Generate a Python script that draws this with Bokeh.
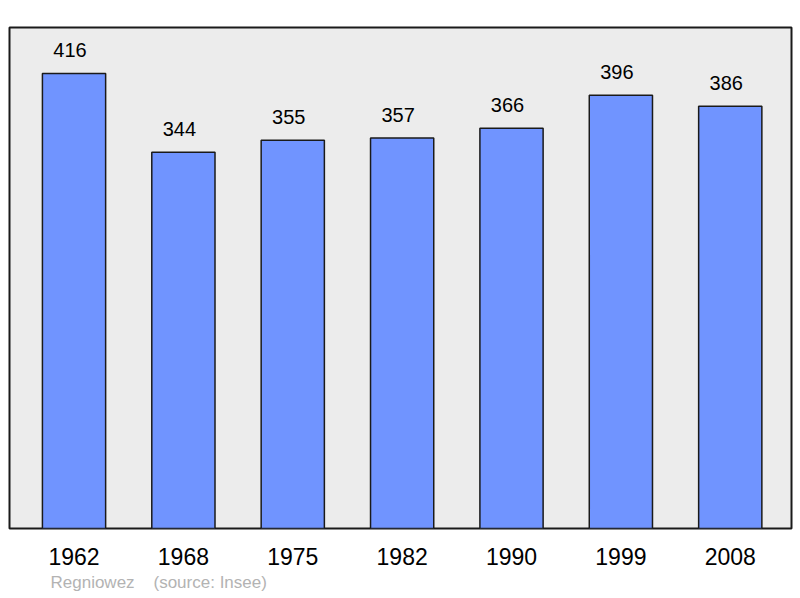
from bokeh.plotting import figure
from bokeh.models import Range1d, FixedTicker, Title
from bokeh.core.properties import value
from bokeh.embed import file_html
from bokeh.resources import INLINE

years = ["1962", "1968", "1975", "1982", "1990", "1999", "2008"]
population = [416, 344, 355, 357, 366, 396, 386]
author = "Regniowez"
source = "(source: Insee)"

xs = list(range(len(years)))
FONT = "Liberation Sans"

p = figure(width=800, height=598, output_backend="svg", toolbar_location=None,
           x_range=Range1d(-0.59, 6.56), y_range=Range1d(0, 458),
           min_border_left=9, min_border_right=9, min_border_top=27, min_border_bottom=70)
p.background_fill_color = "#ececec"
p.border_fill_color = "white"
p.outline_line_color = "#1a1a1a"
p.outline_line_width = 2
p.grid.visible = False
p.yaxis.visible = False

p.vbar(x=xs, top=population, bottom=0, width=0.578, fill_color="#7094ff",
       line_color="#1a1a1a", line_width=1.5)

p.text(x=xs, y=population, text=[str(v) for v in population],
       text_align="center", text_baseline="bottom", x_offset=-4, y_offset=-16,
       text_font=value(FONT), text_font_size="20px", text_color="black")

ax = p.xaxis[0]
ax.ticker = FixedTicker(ticks=xs)
ax.major_label_overrides = {i: y for i, y in enumerate(years)}
ax.axis_line_color = None
ax.major_tick_line_color = None
ax.minor_tick_line_color = None
ax.major_label_text_font = FONT
ax.major_label_text_font_size = "23px"
ax.major_label_text_color = "black"
ax.major_label_standoff = 13

footer = Title(text=author + "\u00a0\u00a0\u00a0\u00a0" + source, align="left",
               offset=41, standoff=6, text_font=FONT, text_font_size="17px",
               text_font_style="normal", text_color="#b3b3b3")
p.add_layout(footer, "below")

open("out.html", "w").write(file_html(p, INLINE))
